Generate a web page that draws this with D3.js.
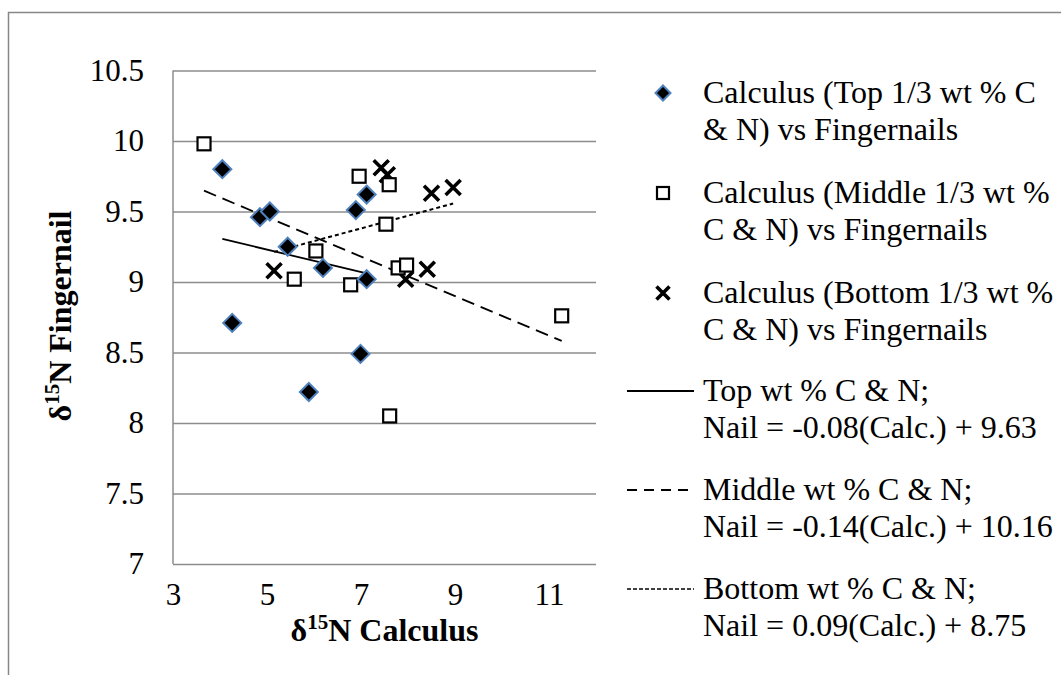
<!DOCTYPE html>
<html>
<head>
<meta charset="utf-8">
<script src="https://cdn.jsdelivr.net/npm/d3@7"></script>
<style>
  html, body { margin: 0; padding: 0; background: #fff; }
  svg { display: block; font-family: "Liberation Serif", "Times New Roman", serif; }
</style>
</head>
<body>
<svg id="chart" width="1061" height="675"></svg>
<script>
// δ15N of calculus (x) against δ15N of fingernails (y), split by wt % C & N tercile
const topCalc = [4.05, 4.85, 5.06, 5.44, 6.89, 7.12, 6.19, 7.12, 4.26, 6.99, 5.89];
const topNail = [9.80, 9.46, 9.50, 9.25, 9.51, 9.62, 9.10, 9.02, 8.71, 8.49, 8.22];

const midCalc = [3.66, 6.96, 7.60, 7.53, 6.04, 5.58, 6.78, 7.79, 7.97, 11.27, 7.61];
const midNail = [9.98, 9.75, 9.69, 9.41, 9.22, 9.02, 8.98, 9.10, 9.12, 8.76, 8.05];

const botCalc = [5.15, 7.43, 7.56, 7.95, 8.41, 8.50, 8.96];
const botNail = [9.08, 9.81, 9.76, 9.02, 9.09, 9.63, 9.67];

// Linear fits (slope, intercept) as reported
const fitSlopes = [-0.08, -0.14, 0.09];
const fitIntercepts = [9.63, 10.16, 8.75];

const xTicks = [3, 5, 7, 9, 11];
const yTicks = [7, 7.5, 8, 8.5, 9, 9.5, 10, 10.5];

const legendLabels = [
  ["Calculus (Top 1/3 wt % C", "& N) vs Fingernails"],
  ["Calculus (Middle 1/3 wt %", "C & N) vs Fingernails"],
  ["Calculus (Bottom 1/3 wt %", "C & N) vs Fingernails"],
  ["Top wt % C & N;", "Nail = -0.08(Calc.) + 9.63"],
  ["Middle wt % C & N;", "Nail = -0.14(Calc.) + 10.16"],
  ["Bottom wt % C & N;", "Nail = 0.09(Calc.) + 8.75"]
];

const svg = d3.select("#chart");
const grid = "#8c8c8c";
const serif = "Liberation Serif";
const plot = { left: 173, right: 596, top: 70.5, bottom: 564 };

const x = d3.scaleLinear().domain([3, 12]).range([plot.left, plot.right]);
const y = d3.scaleLinear().domain([7, 10.5]).range([plot.bottom, plot.top]);

// chart border
svg.append("rect")
  .attr("x", 8.5).attr("y", 12.5).attr("width", 1200).attr("height", 800)
  .attr("fill", "none").attr("stroke", "#878787").attr("stroke-width", 1.5);

// horizontal gridlines + y labels
const yAxis = d3.axisLeft(y).tickValues(yTicks).tickSize(-(plot.right - plot.left))
  .tickPadding(29).tickFormat(d3.format("~g"));
const gy = svg.append("g").attr("transform", `translate(${plot.left},0)`).call(yAxis);
gy.attr("font-family", serif);
gy.select(".domain").remove();
gy.selectAll(".tick line").attr("stroke", grid).attr("stroke-width", 1.5);
gy.selectAll(".tick text").attr("font-size", 31).attr("fill", "#000");

// x labels (no tick marks)
const xAxis = d3.axisBottom(x).tickValues(xTicks).tickSize(0).tickPadding(19).tickFormat(d3.format("d"));
const gx = svg.append("g").attr("transform", `translate(0,${plot.bottom})`).call(xAxis);
gx.attr("font-family", serif);
gx.select(".domain").remove();
gx.selectAll(".tick text").attr("font-size", 31).attr("fill", "#000");

// vertical axis line
svg.append("line")
  .attr("x1", plot.left).attr("x2", plot.left)
  .attr("y1", plot.top).attr("y2", plot.bottom)
  .attr("stroke", grid).attr("stroke-width", 1.5);

// axis titles
const xt = svg.append("text").attr("x", (plot.left + plot.right) / 2).attr("y", 641)
  .attr("text-anchor", "middle").attr("font-size", 32).attr("font-weight", "bold");
xt.append("tspan").text("δ");
xt.append("tspan").text("15").attr("font-size", 21).attr("dy", -12);
xt.append("tspan").text("N Calculus").attr("dy", 12);

const yt = svg.append("text").attr("transform", "translate(71,316) rotate(-90)")
  .attr("text-anchor", "middle").attr("font-size", 32).attr("font-weight", "bold");
yt.append("tspan").text("δ");
yt.append("tspan").text("15").attr("font-size", 21).attr("dy", -12);
yt.append("tspan").text("N Fingernail").attr("dy", 12);

// marker shapes
function diamond(g, s) {
  g.append("path").attr("d", `M0,${-s}L${s},0L0,${s}L${-s},0Z`)
    .attr("fill", "#000").attr("stroke", "#4f81bd").attr("stroke-width", 2);
}
function square(g, s) {
  g.append("rect").attr("x", -s).attr("y", -s).attr("width", 2 * s).attr("height", 2 * s)
    .attr("fill", "#fff").attr("stroke", "#000").attr("stroke-width", 2.2);
}
function cross(g, s) {
  g.append("path").attr("d", `M${-s},${-s}L${s},${s}M${-s},${s}L${s},${-s}`)
    .attr("stroke", "#000").attr("stroke-width", 3.6).attr("fill", "none");
}

// trend lines over each group's x range
const groups = [
  { xs: topCalc, ys: topNail, draw: diamond, size: 9, dash: null, w: 1.8 },
  { xs: midCalc, ys: midNail, draw: square, size: 6.5, dash: "13,7", w: 1.8 },
  { xs: botCalc, ys: botNail, draw: cross, size: 7.5, dash: "4,3", w: 2 }
];
const line = d3.line().x(d => x(d[0])).y(d => y(d[1]));
groups.forEach((g, i) => {
  const [lo, hi] = d3.extent(g.xs);
  const pts = [lo, hi].map(v => [v, fitSlopes[i] * v + fitIntercepts[i]]);
  svg.append("path").attr("d", line(pts)).attr("fill", "none")
    .attr("stroke", "#000").attr("stroke-width", g.w)
    .attr("stroke-dasharray", g.dash);
});

// points: bottom group first so diamonds sit on top
[2, 1, 0].forEach(i => {
  const g = groups[i];
  g.xs.forEach((v, k) => {
    const m = svg.append("g").attr("transform", `translate(${x(v)},${y(g.ys[k])})`);
    g.draw(m, g.size);
  });
});

// legend
const legY = [93, 193, 293, 391, 490, 589];
const legText = svg.append("g").attr("font-size", 32).attr("font-family", serif);
legendLabels.forEach((lines, i) => {
  const t = legText.append("text").attr("x", 703).attr("y", legY[i] + 10);
  t.append("tspan").attr("x", 703).text(lines[0]);
  t.append("tspan").attr("x", 703).attr("dy", 37).text(lines[1]);
});
[diamond, square, cross].forEach((f, i) => {
  const m = svg.append("g").attr("transform", `translate(663,${legY[i]})`);
  f(m, [7.5, 6, 6.5][i]);
});
groups.forEach((g, i) => {
  svg.append("line").attr("x1", 627).attr("x2", 694)
    .attr("y1", legY[i + 3]).attr("y2", legY[i + 3])
    .attr("stroke", "#000").attr("stroke-width", i === 2 ? 1.5 : 1.8)
    .attr("stroke-dasharray", i === 1 ? "10,7" : (i === 2 ? "4,2" : null));
});
</script>
</body>
</html>
